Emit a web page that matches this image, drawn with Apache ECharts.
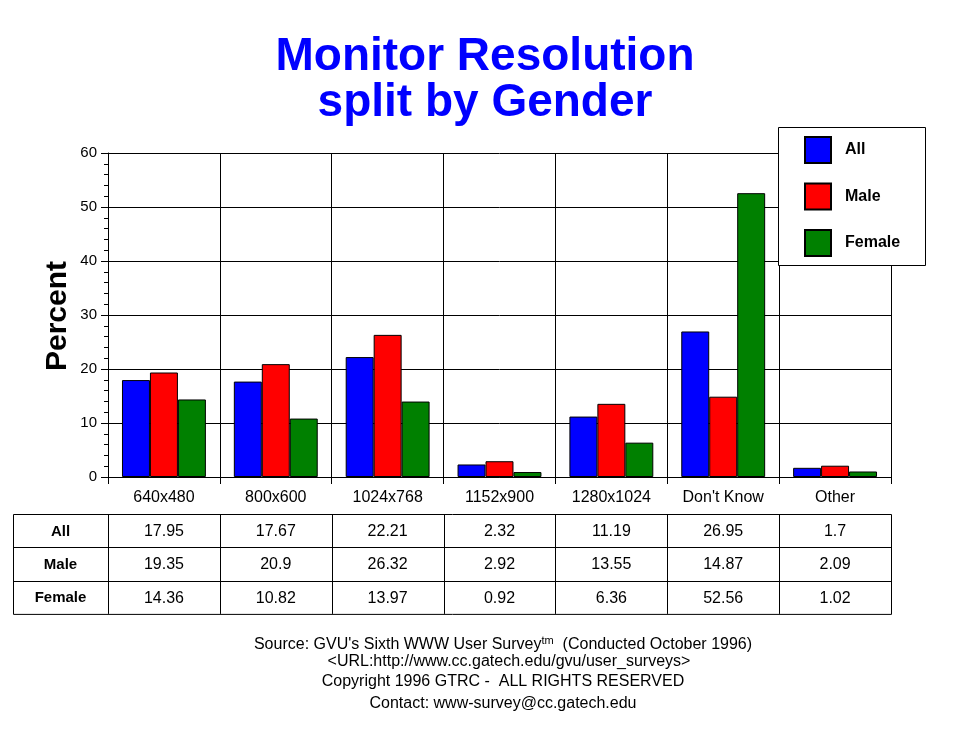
<!DOCTYPE html>
<html>
<head>
<meta charset="utf-8">
<script src="https://cdn.jsdelivr.net/npm/echarts@6/dist/echarts.min.js"></script>
<style>html,body{margin:0;padding:0;background:#fff;}#c{width:970px;height:736px;}</style>
</head>
<body>
<div id="c"></div>
<script>
var categories = ['640x480', '800x600', '1024x768', '1152x900', '1280x1024', "Don't Know", 'Other'];
var seriesNames = ['All', 'Male', 'Female'];
var allValues = [17.95, 17.67, 22.21, 2.32, 11.19, 26.95, 1.7];
var maleValues = [19.35, 20.9, 26.32, 2.92, 13.55, 14.87, 2.09];
var femaleValues = [14.36, 10.82, 13.97, 0.92, 6.36, 52.56, 1.02];
var yTicks = [0, 10, 20, 30, 40, 50, 60];

var FONT = '"Liberation Sans", Arial, sans-serif';
var colors = ['#0000FF', '#FF0000', '#008000'];
var gridL = 108, gridT = 153, gridW = 783, gridH = 324;
var seriesData = [allValues, maleValues, femaleValues];

var chart = echarts.init(document.getElementById('c'));

var graphics = [];
// Title
graphics.push({type: 'text', left: 'center', top: 34, z: 5,
  style: {text: 'Monitor Resolution\nsplit by Gender', font: 'bold 46px ' + FONT, fill: '#0000FF', textAlign: 'center', lineHeight: 46}});
// Y axis name
graphics.push({type: 'text', x: 58, y: 316, rotation: Math.PI / 2, z: 5,
  style: {text: 'Percent', font: 'bold 30px ' + FONT, fill: '#000', textAlign: 'center', textVerticalAlign: 'middle'}});
// Legend box
graphics.push({type: 'rect', z: 3, shape: {x: 778.5, y: 127.5, width: 147, height: 138},
  style: {fill: '#fff', stroke: '#000', lineWidth: 1}});

// Data table
var tblL = 13, tblT = 514, rowH = 33.3, colW = gridW / categories.length;
var tblR = gridL + gridW, tblB = tblT + rowH * 3;
graphics.push({type: 'rect', z: 3, shape: {x: tblL + 0.5, y: tblT + 0.5, width: tblR - tblL, height: tblB - tblT},
  style: {fill: 'none', stroke: '#000', lineWidth: 1}});
for (var r = 1; r < 3; r++) {
  var yy = Math.round(tblT + rowH * r) + 0.5;
  graphics.push({type: 'line', z: 3, shape: {x1: tblL, y1: yy, x2: tblR, y2: yy}, style: {stroke: '#000', lineWidth: 1}});
}
for (var c = 0; c < categories.length; c++) {
  var xx = Math.round(gridL + colW * c) + 0.5;
  graphics.push({type: 'line', z: 3, shape: {x1: xx, y1: tblT, x2: xx, y2: tblB}, style: {stroke: '#000', lineWidth: 1}});
}
for (var r2 = 0; r2 < 3; r2++) {
  var cy = tblT + rowH * r2 + rowH / 2 + 1;
  graphics.push({type: 'text', z: 4, x: (tblL + gridL) / 2, y: cy,
    style: {text: seriesNames[r2], font: 'bold 15px ' + FONT, fill: '#000', textAlign: 'center', textVerticalAlign: 'middle'}});
  for (var c2 = 0; c2 < categories.length; c2++) {
    graphics.push({type: 'text', z: 4, x: gridL + colW * c2 + colW / 2, y: cy,
      style: {text: String(seriesData[r2][c2]), font: '16px ' + FONT, fill: '#000', textAlign: 'center', textVerticalAlign: 'middle'}});
  }
}
// Footer
graphics.push({type: 'text', z: 4, x: 503, y: 645,
  style: {text: "Source: GVU's Sixth WWW User Survey{sup|tm}  (Conducted October 1996)", font: '16px ' + FONT, fill: '#000',
    textAlign: 'center', textVerticalAlign: 'middle',
    rich: {sup: {fontSize: 11, fontFamily: FONT, verticalAlign: 'top', padding: [0, 0, 8, 0]}}}});
var footer = ['<URL:http://www.cc.gatech.edu/gvu/user_surveys>', 'Copyright 1996 GTRC -  ALL RIGHTS RESERVED', 'Contact: www-survey@cc.gatech.edu'];
var footerY = [662, 682, 704];
var footerX = [509, 503, 503];
for (var f = 0; f < footer.length; f++) {
  graphics.push({type: 'text', z: 4, x: footerX[f], y: footerY[f],
    style: {text: footer[f], font: '16px ' + FONT, fill: '#000', textAlign: 'center', textVerticalAlign: 'middle'}});
}

var series = seriesNames.map(function (n, i) {
  return {
    name: n, type: 'bar', data: seriesData[i], barGap: 0, barCategoryGap: '25%',
    itemStyle: {color: colors[i], borderColor: '#000', borderWidth: 1},
    emphasis: {disabled: true}
  };
});

chart.setOption({
  animation: false,
  backgroundColor: '#fff',
  grid: {left: gridL, top: gridT, width: gridW, height: gridH, containLabel: false},
  legend: {
    data: seriesNames, orient: 'vertical', left: 804, top: 136, padding: 0,
    itemWidth: 26, itemHeight: 26, itemGap: 18.5, icon: 'rect', z: 10,
    textStyle: {fontFamily: FONT, fontWeight: 'bold', fontSize: 16, color: '#000', padding: [0, 0, 0, 9]},
    selectedMode: false
  },
  xAxis: {
    type: 'category', data: categories, boundaryGap: true,
    axisLine: {lineStyle: {color: '#000', width: 1}},
    axisTick: {show: true, interval: 0, length: 7, lineStyle: {color: '#000'}},
    axisLabel: {interval: 0, margin: 13, fontFamily: FONT, fontSize: 16, color: '#000'},
    splitLine: {show: true, interval: 0, lineStyle: {color: '#000', width: 1}}
  },
  yAxis: {
    type: 'value', min: yTicks[0], max: yTicks[yTicks.length - 1], interval: 10,
    axisLine: {show: true, lineStyle: {color: '#000', width: 1}},
    axisTick: {show: true, length: 7, lineStyle: {color: '#000'}},
    minorTick: {show: true, splitNumber: 5, length: 4, lineStyle: {color: '#000'}},
    axisLabel: {margin: 11, fontFamily: FONT, fontSize: 15, color: '#000'},
    splitLine: {show: true, lineStyle: {color: '#000', width: 1}}
  },
  series: series,
  graphic: graphics
});
</script>
</body>
</html>
